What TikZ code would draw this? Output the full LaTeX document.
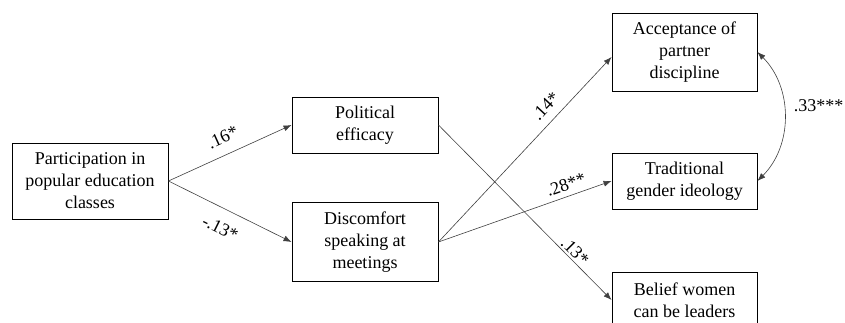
\documentclass[tikz,border=0pt]{standalone}
\usepackage{fontspec}
\setmainfont{LiberationSerif}[Extension=.ttf,UprightFont=*-Regular,BoldFont=*-Bold,ItalicFont=*-Italic,BoldItalicFont=*-BoldItalic]
\usetikzlibrary{arrows.meta}

\begin{document}
\begin{tikzpicture}[x=1pt,y=-1pt,
  box/.style={rectangle,draw,line width=0.9pt,align=center,inner sep=2pt,font=\fontsize{18}{22}\selectfont},
  effect/.style={draw=black!75,line width=0.6pt,-{Latex[length=8pt,width=6pt]}},
  coef/.style={font=\fontsize{18}{22}\selectfont,inner sep=1pt,sloped}]
\useasboundingbox (0,0) rectangle (845,323);
% variables
\node[box,minimum width=156,minimum height=76] (part) at (90,181) {Participation in\\popular education\\classes};
\node[box,minimum width=146,minimum height=56] (pol) at (365,125) {Political\\efficacy};
\node[box,minimum width=146,minimum height=79] (disc) at (365,242) {Discomfort\\speaking at\\meetings};
\node[box,minimum width=145,minimum height=78] (acc) at (684.5,52) {Acceptance of\\partner\\discipline};
\node[box,minimum width=145,minimum height=56] (trad) at (684.5,181) {Traditional\\gender ideology};
\node[box,minimum width=145,minimum height=56] (lead) at (684.5,300) {Belief women\\can be leaders};
% paths
\draw[effect] (part.east) -- (pol.west) node[coef,midway,above=10pt] {.16*};
\draw[effect] (part.east) -- (disc.west) node[coef,pos=0.49,below=12pt] {-.13*};
\draw[effect] (pol.east) -- (lead.west) node[coef,pos=0.755,above=1pt] {.13*};
\draw[effect] (disc.east) -- ([yshift=-5pt]acc.west) node[coef,pos=0.68,above=7pt] {.14*};
\draw[effect] (disc.east) -- (trad.west) node[coef,pos=0.76,above=4.5pt] {.28**};
\draw[effect,{Latex[length=8pt,width=6pt]}-{Latex[length=8pt,width=6pt]}] (acc.east) to[bend left=45]
  node[pos=0.42,right=9pt,font=\fontsize{18}{22}\selectfont,inner sep=1pt] {.33***} (trad.east);
\end{tikzpicture}
\end{document}
